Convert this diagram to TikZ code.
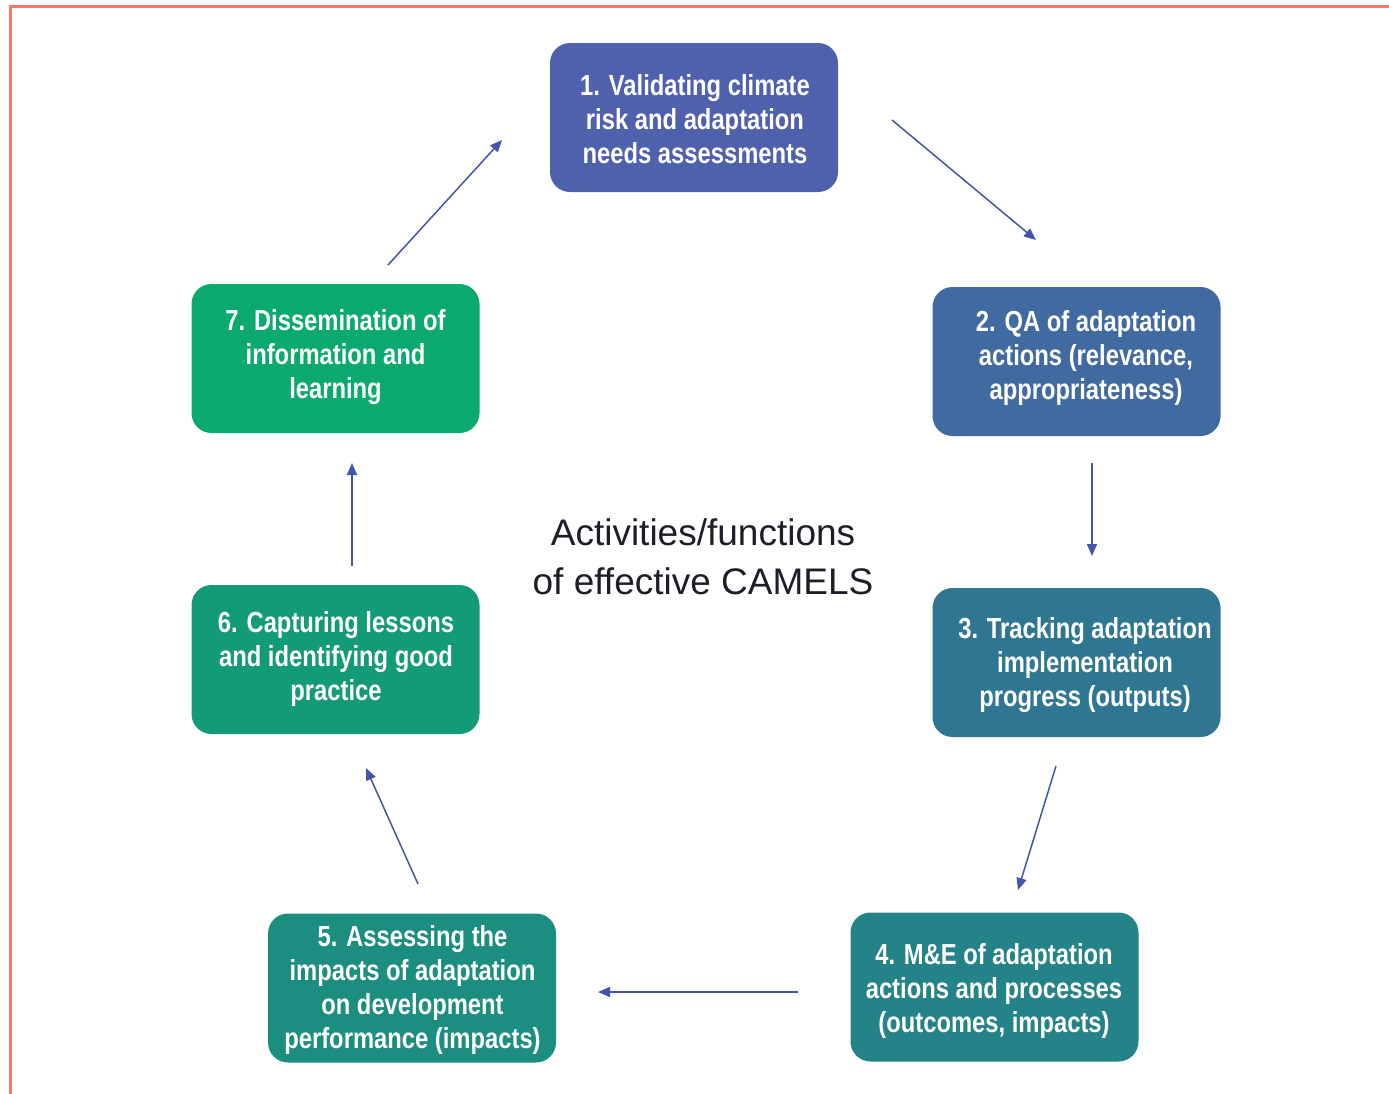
\documentclass[tikz,border=0pt]{standalone}
\usepackage{fontspec}
\setmainfont{Liberation Sans}
\newfontfamily\boxfont[FakeStretch=0.82]{Liberation Sans}
\usetikzlibrary{arrows.meta,calc}
\definecolor{c1}{RGB}{79,96,172}
\definecolor{c2}{RGB}{65,106,160}
\definecolor{c3}{RGB}{47,118,146}
\definecolor{c4}{RGB}{36,131,136}
\definecolor{c5}{RGB}{27,142,128}
\definecolor{c6}{RGB}{19,155,120}
\definecolor{c7}{RGB}{10,170,110}
\definecolor{arrowc}{RGB}{68,84,170}
\definecolor{framec}{RGB}{250,120,105}
\definecolor{titlec}{RGB}{30,30,40}
\begin{document}
\begin{tikzpicture}[x=0.5pt,y=-0.5pt,
  box/.style={rounded corners=10pt, minimum width=144pt, minimum height=74.5pt, inner sep=0pt},
  btext/.style={text=white, font=\boxfont\bfseries\fontsize{14.5}{17}\selectfont, align=center, inner sep=0pt},
  conn/.style={draw=arrowc, line width=0.75pt, -{Triangle[length=6pt,width=5pt]}},
  frame/.style={draw=framec, line width=1.5pt}]
\useasboundingbox (0,0) rectangle (1389,1094);
\draw[frame] (1389,6) -- (10,6) -- (10,1094);

\node[box, fill=c1] (b1) at (694,117.5) {};
\node[btext] (t1) at (695,119) {1. Validating climate\\risk and adaptation\\needs assessments};

\node[box, fill=c2] (b2) at (1076.5,361.5) {};
\node[btext] (t2) at (1086,357.5) {2. QA of adaptation\\actions (relevance,\\appropriateness)};

\node[box, fill=c3] (b3) at (1076.5,662.5) {};
\node[btext] (t3) at (1085,665.5) {3. Tracking adaptation\\implementation\\progress (outputs)};

\node[box, fill=c4] (b4) at (994.5,987) {};
\node[btext] (t4) at (994,990.5) {4. M\&E of adaptation\\actions and processes\\(outcomes, impacts)};

\node[box, fill=c5] (b5) at (412,988) {};
\node[btext] (t5) at (412.5,990) {5. Assessing the\\impacts of adaptation\\on development\\performance (impacts)};

\node[box, fill=c6] (b6) at (335.5,659.5) {};
\node[btext] (t6) at (336,658.5) {6. Capturing lessons\\and identifying good\\practice};

\node[box, fill=c7] (b7) at (335.5,358.5) {};
\node[btext] (t7) at (335.5,357.5) {7. Dissemination of\\information and\\learning};

\node[text=titlec, font=\fontsize{18.5}{24.5}\selectfont, align=center, inner sep=0pt] (title) at (703,557) {Activities/functions\\of effective CAMELS};

\coordinate (a1s) at (892,120); \coordinate (a1e) at (1036,240);
\coordinate (a2s) at (1092,463); \coordinate (a2e) at (1092,556);
\coordinate (a3s) at (1056,766); \coordinate (a3e) at (1018,890);
\coordinate (a4s) at (798,992); \coordinate (a4e) at (598,992);
\coordinate (a5s) at (418,884); \coordinate (a5e) at (366,768);
\coordinate (a6s) at (352,566); \coordinate (a6e) at (352,463);
\coordinate (a7s) at (388,265); \coordinate (a7e) at (502,140);

\draw[conn] (a1s) -- (a1e);
\draw[conn] (a2s) -- (a2e);
\draw[conn] (a3s) -- (a3e);
\draw[conn] (a4s) -- (a4e);
\draw[conn] (a5s) -- (a5e);
\draw[conn] (a6s) -- (a6e);
\draw[conn] (a7s) -- (a7e);
\end{tikzpicture}
\end{document}
